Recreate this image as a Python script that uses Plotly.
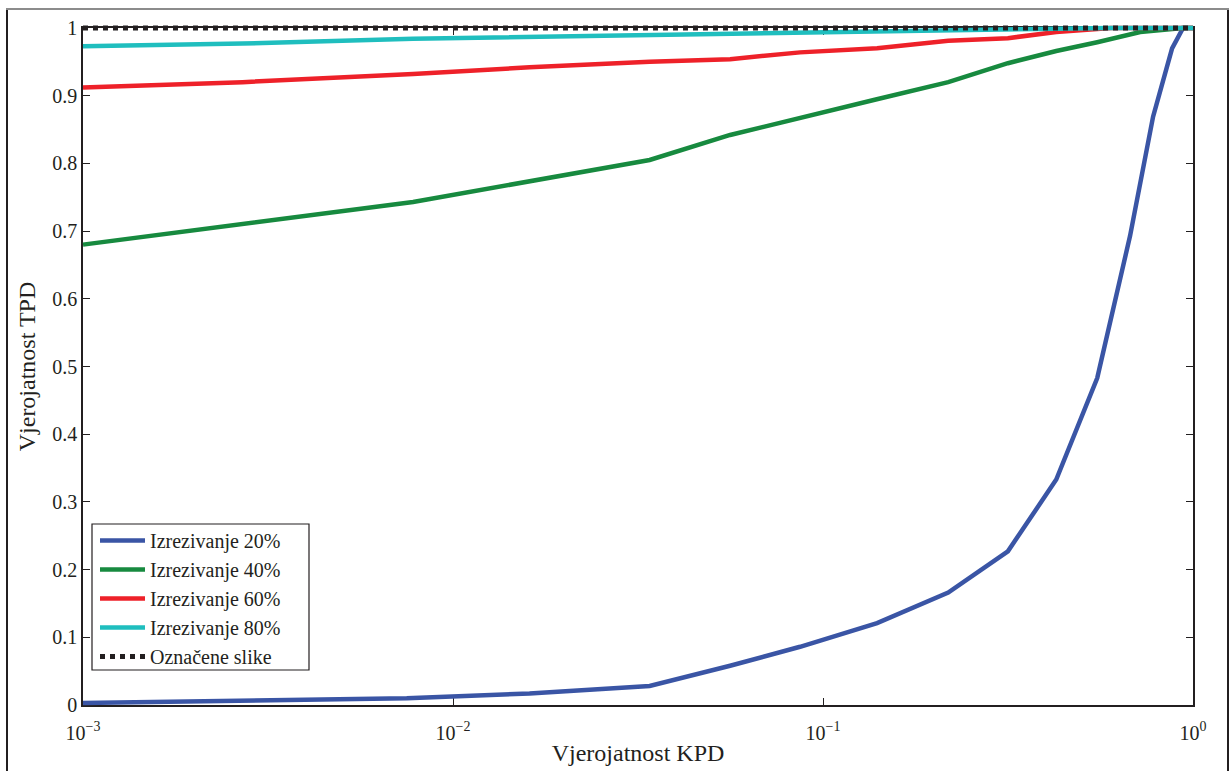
import plotly.graph_objects as go

# ---- data ----
x_20 = [0.001, 0.0075, 0.0161, 0.034, 0.0561, 0.0867, 0.140, 0.218, 0.316, 0.427, 0.551, 0.676, 0.780, 0.878, 0.940, 1.0]
y_20 = [0.003, 0.010, 0.017, 0.028, 0.058, 0.086, 0.121, 0.166, 0.227, 0.333, 0.483, 0.693, 0.869, 0.970, 1.0, 1.0]

x_40 = [0.001, 0.0078, 0.034, 0.0561, 0.138, 0.218, 0.316, 0.427, 0.551, 0.72, 0.94, 1.0]
y_40 = [0.680, 0.743, 0.805, 0.842, 0.894, 0.920, 0.948, 0.966, 0.979, 0.994, 1.0, 1.0]

x_60 = [0.001, 0.0027, 0.0078, 0.0161, 0.034, 0.0561, 0.0867, 0.140, 0.218, 0.316, 0.427, 0.60, 1.0]
y_60 = [0.912, 0.920, 0.932, 0.942, 0.950, 0.954, 0.964, 0.970, 0.981, 0.985, 0.994, 1.0, 1.0]

x_80 = [0.001, 0.0027, 0.0078, 0.034, 0.0867, 0.218, 0.427, 0.60, 1.0]
y_80 = [0.973, 0.977, 0.984, 0.990, 0.994, 0.997, 0.999, 1.0, 1.0]

x_lab = [0.001, 1.0]
y_lab = [1.0, 1.0]

names = ["Izrezivanje 20%", "Izrezivanje 40%", "Izrezivanje 60%", "Izrezivanje 80%", "Označene slike"]
colors = ["#3A55A5", "#178A3F", "#EE2129", "#1FBEBE", "#231F20"]

x_tickvals = [0.001, 0.01, 0.1, 1]
x_ticktext = ["10<sup>−3</sup>", "10<sup>−2</sup>", "10<sup>−1</sup>", "10<sup>0</sup>"]
y_tickvals = [0, 0.1, 0.2, 0.3, 0.4, 0.5, 0.6, 0.7, 0.8, 0.9, 1]
y_ticktext = ["0", "0.1", "0.2", "0.3", "0.4", "0.5", "0.6", "0.7", "0.8", "0.9", "1"]

FONT = "Liberation Serif"
INK = "#231F20"

# page geometry: visible axes box (page px) and a slightly larger, unclipped drawing box
W, H = 1230, 771
AX0, AX1, AY0, AY1 = 83, 1193, 28, 705      # axes box: left, right, top, bottom
PAD = 6
OX0, OX1, OY0, OY1 = AX0 - PAD, AX1 + PAD, AY0 - PAD, AY1 + PAD
pw, ph = OX1 - OX0, OY1 - OY0

def px(xp):
    return (xp - OX0) / pw

def py(yp):
    return (OY1 - yp) / ph

dec_per_px = 3.0 / (AX1 - AX0)
val_per_px = 1.0 / (AY1 - AY0)

fig = go.Figure()
# invisible carrier trace so the visible axes box (x/y) is drawn
fig.add_trace(go.Scatter(x=x_lab, y=y_lab, mode="lines", showlegend=False, hoverinfo="skip",
                         line=dict(color="rgba(0,0,0,0)", width=0)))
series = [(x_20, y_20), (x_40, y_40), (x_60, y_60), (x_80, y_80)]
for (xs, ys), n, c in zip(series, names[:4], colors[:4]):
    fig.add_trace(go.Scatter(x=xs, y=ys, mode="lines", name=n, xaxis="x2", yaxis="y2",
                             line=dict(color=c, width=4.5)))
fig.add_trace(go.Scatter(x=x_lab, y=y_lab, mode="lines", name=names[4], xaxis="x2", yaxis="y2",
                         line=dict(color=colors[4], width=5, dash="5px,5px")))

axis_common = dict(showline=True, linecolor=INK, linewidth=1.5,
                   mirror="ticks", ticks="inside", ticklen=7, tickwidth=1,
                   tickcolor=INK, showgrid=False, zeroline=False,
                   tickfont=dict(family=FONT, size=20, color=INK))

fig.update_layout(
    xaxis=dict(type="log", range=[-3, 0], tickvals=x_tickvals, ticktext=x_ticktext,
               domain=[px(AX0), px(AX1)], anchor="y",
               ticklabelstandoff=9,
               title=dict(text="Vjerojatnost KPD", font=dict(family=FONT, size=24, color=INK),
                          standoff=1),
               **axis_common),
    yaxis=dict(range=[0, 1], tickvals=y_tickvals, ticktext=y_ticktext,
               domain=[py(AY1), py(AY0)], anchor="x",
               title=dict(text="Vjerojatnost TPD", font=dict(family=FONT, size=24, color=INK),
                          standoff=10),
               **axis_common),
    xaxis2=dict(type="log", visible=False, domain=[0, 1], anchor="y2",
                range=[-3 - PAD * dec_per_px, 0 + PAD * dec_per_px]),
    yaxis2=dict(visible=False, domain=[0, 1], anchor="x2",
                range=[0 - PAD * val_per_px, 1 + PAD * val_per_px]),
)

fig.update_layout(
    width=W, height=H,
    margin=dict(l=OX0, r=W - OX1, t=OY0, b=H - OY1, autoexpand=False),
    paper_bgcolor="white", plot_bgcolor="rgba(0,0,0,0)",
    font=dict(family=FONT, color=INK),
    showlegend=True,
    legend=dict(x=px(95), y=py(521), xanchor="left", yanchor="top",
                bgcolor="rgba(0,0,0,0)", borderwidth=0,
                font=dict(family=FONT, size=20, color=INK),
                itemwidth=45, tracegroupgap=0),
    shapes=[
        dict(type="rect", xref="paper", yref="paper", x0=px(92), x1=px(309), y0=py(670), y1=py(524),
             line=dict(color=INK, width=1.2), fillcolor="white", layer="above"),
        dict(type="line", xref="paper", yref="paper", x0=px(7), x1=px(7), y0=py(10), y1=py(790),
             line=dict(color=INK, width=2)),
        dict(type="line", xref="paper", yref="paper", x0=px(1228), x1=px(1228), y0=py(10), y1=py(790),
             line=dict(color=INK, width=2)),
        dict(type="line", xref="paper", yref="paper", x0=px(6), x1=px(1229), y0=py(9), y1=py(9),
             line=dict(color="#8C8C8C", width=2)),
    ],
)

fig.write_html("out.html", config={"displayModeBar": False},
               post_script="document.body.style.margin='0';document.body.style.overflow='hidden';")
